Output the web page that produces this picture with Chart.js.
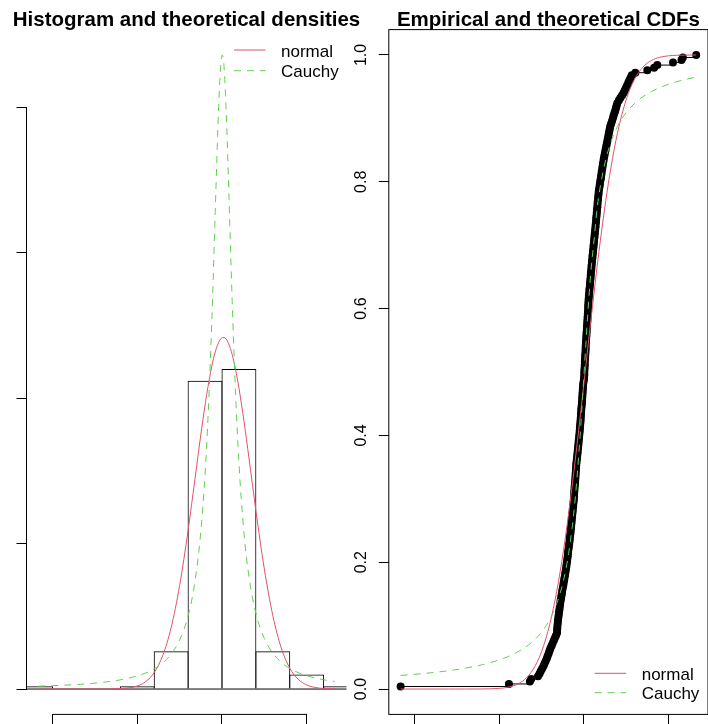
<!DOCTYPE html>
<html>
<head>
<meta charset="utf-8">
<script src="https://cdn.jsdelivr.net/npm/chart.js@4.4.1/dist/chart.umd.min.js"></script>
<style>
  html, body { margin: 0; padding: 0; background: #fff; overflow: hidden; width: 708px; height: 724px; }
  canvas { position: absolute; left: 0; top: 0; }
</style>
</head>
<body>
<canvas id="dens" width="708" height="724"></canvas>
<canvas id="cdf" width="712" height="724"></canvas>
<script>
// sorted sample
const sample = [
  -0.1084, -0.0443,
  -0.0319, -0.0311, -0.0271, -0.0262, -0.0255, -0.0247, -0.0239, -0.0233, -0.0226, -0.0219, -0.0214, -0.0208, -0.0203,
  -0.0198, -0.0191, -0.0185, -0.0178, -0.0172, -0.0165, -0.0159,
  -0.0158, -0.0157, -0.0156, -0.0154, -0.0153,
  -0.0151, -0.0149, -0.0147, -0.0145, -0.0143, -0.0141, -0.0139, -0.0137,
  -0.0134, -0.0132, -0.0129, -0.0127, -0.0124, -0.0121, -0.0119, -0.0116, -0.0114, -0.0111, -0.0109, -0.0106, -0.0104,
  -0.0102, -0.0100, -0.0098, -0.0096, -0.0094, -0.0093, -0.0091, -0.0089, -0.0087, -0.0085, -0.0083, -0.0082, -0.0080, -0.0078,
  -0.0077, -0.0075, -0.0074, -0.0072, -0.0071, -0.0069, -0.0068, -0.0066, -0.0065, -0.0063, -0.0062, -0.0060, -0.0059,
  -0.0058, -0.0057, -0.0056, -0.0055, -0.0054, -0.0052, -0.0051, -0.0050, -0.0049, -0.0048, -0.0047, -0.0046, -0.0045,
  -0.0044, -0.0042, -0.0040, -0.0039, -0.0037, -0.0036, -0.0034, -0.0033, -0.0031, -0.0030, -0.0028, -0.0027, -0.0025,
  -0.0024, -0.0023, -0.0022, -0.0020, -0.0019, -0.0018, -0.0017, -0.0016, -0.0015, -0.0014, -0.0012, -0.0011, -0.0010,
  -0.0009, -0.0008, -0.0007, -0.0006, -0.0005, -0.0004, -0.0002,
  0.0001, 0.0002, 0.0003, 0.0003, 0.0004, 0.0005, 0.0006, 0.0006, 0.0007, 0.0008, 0.0009, 0.0010, 0.0011, 0.0011,
  0.0012, 0.0013, 0.0014, 0.0015, 0.0016, 0.0017, 0.0018,
  0.0019, 0.0020, 0.0021, 0.0022, 0.0023, 0.0024, 0.0025, 0.0026, 0.0026, 0.0027, 0.0028, 0.0029,
  0.0030, 0.0032, 0.0033, 0.0034, 0.0036, 0.0037, 0.0038, 0.0040, 0.0041, 0.0042, 0.0044, 0.0045, 0.0046, 0.0048, 0.0049,
  0.0051, 0.0052, 0.0054, 0.0055, 0.0057, 0.0058, 0.0060, 0.0061, 0.0063, 0.0064, 0.0066, 0.0067, 0.0069,
  0.0070, 0.0072, 0.0073, 0.0074, 0.0076, 0.0077, 0.0078, 0.0080, 0.0081, 0.0082, 0.0084, 0.0085, 0.0087, 0.0088,
  0.0090, 0.0093, 0.0095, 0.0097, 0.0100, 0.0102, 0.0104, 0.0106, 0.0109, 0.0111, 0.0113, 0.0116, 0.0118,
  0.0121, 0.0124, 0.0127, 0.0130, 0.0133, 0.0136, 0.0139, 0.0142, 0.0145, 0.0148, 0.0151, 0.0154, 0.0157,
  0.0162, 0.0167, 0.0172, 0.0176, 0.0181, 0.0186,
  0.0190, 0.0194, 0.0198,
  0.0207, 0.0216, 0.0226, 0.0235,
  0.0242, 0.0249, 0.0256, 0.0263, 0.0270, 0.0277, 0.0284,
  0.0305, 0.0376,
  0.0416, 0.0435, 0.0528, 0.0578, 0.0586,
  0.0665
];

const breaks = [-0.12, -0.10, -0.08, -0.06, -0.04, -0.02, 0, 0.02, 0.04, 0.06, 0.08];

// fitted curves, values read at these x positions
const gridX = [-0.1084, -0.095, -0.08, -0.07, -0.06, -0.05, -0.045, -0.04, -0.035, -0.03, -0.025, -0.02,
  -0.016, -0.012, -0.009, -0.006, -0.004, -0.002, -0.0008, 0.0002, 0.0012, 0.0024, 0.004, 0.006, 0.008,
  0.010, 0.013, 0.016, 0.02, 0.025, 0.03, 0.035, 0.04, 0.045, 0.05, 0.055, 0.06, 0.0665];
const normDens = [0, 0, 0.0001, 0.0024, 0.027, 0.211, 0.513, 1.137, 2.297, 4.233, 7.12, 10.92,
  14.40, 17.90, 20.27, 22.21, 23.18, 23.83, 24.07, 24.16, 24.17, 24.07, 23.73, 23.01, 21.98,
  20.70, 18.40, 15.82, 12.28, 8.25, 5.05, 2.82, 1.44, 0.669, 0.284, 0.109, 0.0387, 0.0087];
const cauchyDens = [0.196, 0.255, 0.358, 0.467, 0.632, 0.903, 1.108, 1.392, 1.798, 2.407, 3.375, 5.036,
  7.359, 11.50, 16.85, 25.33, 32.76, 39.97, 42.80, 43.60, 42.80, 39.97, 34.30, 26.73, 20.36,
  15.56, 10.70, 7.670, 5.217, 3.477, 2.469, 1.837, 1.419, 1.128, 0.917, 0.760, 0.640, 0.522];
const normCdf = [0, 0, 0, 0.00001, 0.00011, 0.00104, 0.00275, 0.0067, 0.0150, 0.0310, 0.0589, 0.1037,
  0.1543, 0.2189, 0.2763, 0.3401, 0.3856, 0.4326, 0.4614, 0.4855, 0.5097, 0.5386, 0.5769, 0.6237, 0.6687,
  0.7114, 0.7702, 0.8215, 0.8777, 0.9288, 0.9616, 0.9809, 0.9912, 0.9963, 0.9986, 0.9995, 0.9998, 1.0];
const cauchyCdf = [0.0214, 0.0244, 0.0289, 0.0330, 0.0384, 0.0460, 0.0510, 0.0572, 0.0651, 0.0755, 0.0897, 0.1104,
  0.1348, 0.1715, 0.2136, 0.2759, 0.3338, 0.4068, 0.4567, 0.5, 0.5433, 0.5932, 0.6528, 0.7065, 0.7606,
  0.7962, 0.8351, 0.8623, 0.8875, 0.9089, 0.9235, 0.9342, 0.9423, 0.9486, 0.9537, 0.9579, 0.9613, 0.9651];

const xTicks = [-0.10, -0.05, 0, 0.05];
const densTicks = [0, 10, 20, 30, 40];
const cdfTicks = [0, 0.2, 0.4, 0.6, 0.8, 1.0];
const cdfTickLabels = ['0.0', '0.2', '0.4', '0.6', '0.8', '1.0'];
const legendLabels = ['normal', 'Cauchy'];
const titles = ['Histogram and theoretical densities', 'Empirical and theoretical CDFs'];

const FONT = "'Liberation Sans', Arial, Helvetica, sans-serif";
const RED = '#DF536B';
const GREEN = '#61D04F';
const DASH = [7, 6];

const n = sample.length;
const xMin = Math.min(...sample), xMax = Math.max(...sample);
const xPad = (xMax - xMin) * 0.04;

// histogram densities (right-closed bins like R)
const binWidth = breaks[1] - breaks[0];
const histBars = [];
for (let i = 0; i < breaks.length - 1; i++) {
  const lo = breaks[i], hi = breaks[i + 1];
  const count = sample.filter(v => v > lo + 1e-12 && v <= hi + 1e-12).length;
  histBars.push({ x: (lo + hi) / 2, y: count / (n * binWidth) });
}
const densMax = Math.max(...normDens, ...cauchyDens, ...histBars.map(b => b.y));

const pts = (xs, ys) => xs.map((x, i) => ({ x: x, y: ys[i] }));

function axis(min, max, ticks, fit) {
  return {
    type: 'linear', min: min, max: max, offset: false,
    afterBuildTicks: s => { s.ticks = ticks.map(v => ({ value: v })); },
    afterFit: fit,
    ticks: { display: false },
    border: { display: false },
    grid: { offset: false, drawOnChartArea: false, drawTicks: true, tickLength: 10,
            color: '#000', tickColor: '#000', lineWidth: 1 }
  };
}

function drawLegend(ctx, chart, x0, rows) {
  ctx.font = '17px ' + FONT;
  ctx.textAlign = 'left';
  ctx.textBaseline = 'alphabetic';
  legendLabels.forEach((lab, i) => {
    const ds = chart.data.datasets[i];
    ctx.save();
    ctx.strokeStyle = ds.borderColor;
    ctx.lineWidth = 1;
    ctx.setLineDash(ds.borderDash || []);
    ctx.beginPath();
    ctx.moveTo(x0, rows[i]);
    ctx.lineTo(x0 + 31.5, rows[i]);
    ctx.stroke();
    ctx.restore();
    ctx.fillStyle = '#000';
    ctx.fillText(lab, x0 + 47, rows[i] + 6.5);
  });
}

function drawTitle(ctx, a, text) {
  ctx.fillStyle = '#000';
  ctx.font = 'bold 20.5px ' + FONT;
  ctx.textAlign = 'center';
  ctx.textBaseline = 'alphabetic';
  ctx.fillText(text, (a.left + a.right) / 2, 26);
}

// left panel: histogram + densities
new Chart(document.getElementById('dens'), {
  type: 'line',
  data: {
    datasets: [
      { type: 'line', label: legendLabels[0], data: pts(gridX, normDens), borderColor: RED, borderWidth: 1,
        pointRadius: 0, cubicInterpolationMode: 'monotone', order: 1 },
      { type: 'line', label: legendLabels[1], data: pts(gridX, cauchyDens), borderColor: GREEN, borderWidth: 1,
        borderDash: DASH, pointRadius: 0, cubicInterpolationMode: 'monotone', order: 0 },
      { type: 'bar', data: histBars, borderColor: '#000', borderWidth: 1, backgroundColor: 'rgba(0,0,0,0)',
        barPercentage: 1.03, categoryPercentage: 1, borderSkipped: 'start', order: 3 },
      { type: 'line', data: [{ x: breaks[0], y: 0 }, { x: breaks[breaks.length - 1], y: 0 }],
        borderColor: '#000', borderWidth: 1, pointRadius: 0, order: 2 }
    ]
  },
  options: {
    responsive: false, animation: false, events: [],
    layout: { padding: { left: 0, top: 29.6, right: 361.5, bottom: 0 } },
    plugins: { legend: { display: false }, title: { display: false }, tooltip: { enabled: false } },
    scales: {
      x: axis(xMin - xPad, xMax + xPad, xTicks, s => { s.height = 9.6; }),
      y: axis(-densMax * 0.04, densMax * 1.04, densTicks, s => { s.width = 26.5; })
    }
  },
  plugins: [{
    id: 'rDecor',
    afterDraw(chart) {
      const { ctx, chartArea: a, scales: { x, y } } = chart;
      ctx.save();
      ctx.strokeStyle = '#000';
      ctx.lineWidth = 1;
      ctx.beginPath();
      ctx.moveTo(a.left, y.getPixelForValue(densTicks[0]));
      ctx.lineTo(a.left, y.getPixelForValue(densTicks[densTicks.length - 1]));
      ctx.moveTo(x.getPixelForValue(xTicks[0]), a.bottom);
      ctx.lineTo(x.getPixelForValue(xTicks[xTicks.length - 1]), a.bottom);
      ctx.stroke();
      drawTitle(ctx, a, titles[0]);
      drawLegend(ctx, chart, a.right - 112.5, [a.top + 20.4, a.top + 41.1]);
      ctx.restore();
    }
  }]
});

// right panel: empirical and theoretical CDFs
new Chart(document.getElementById('cdf'), {
  type: 'line',
  data: {
    datasets: [
      { label: legendLabels[0], data: pts(gridX, normCdf), borderColor: RED, borderWidth: 1,
        pointRadius: 0, cubicInterpolationMode: 'monotone', order: 1 },
      { label: legendLabels[1], data: pts(gridX, cauchyCdf), borderColor: GREEN, borderWidth: 1,
        borderDash: DASH, pointRadius: 0, cubicInterpolationMode: 'monotone', order: 0 },
      { label: 'ecdf', data: sample.map((v, i) => ({ x: v, y: (i + 1) / n })), borderColor: '#000', borderWidth: 1,
        stepped: true, pointRadius: 4, pointBackgroundColor: '#000', pointBorderWidth: 0, order: 2 }
    ]
  },
  options: {
    responsive: false, animation: false, events: [],
    layout: { padding: { left: 0, top: 29.6, right: 2, bottom: 0 } },
    plugins: { legend: { display: false }, title: { display: false }, tooltip: { enabled: false } },
    scales: {
      x: axis(xMin - xPad, xMax + xPad, xTicks, s => { s.height = 9.6; }),
      y: axis(-0.04, 1.04, cdfTicks, s => { s.width = 388.8; })
    }
  },
  plugins: [{
    id: 'rDecor2',
    afterDraw(chart) {
      const { ctx, chartArea: a, scales: { y } } = chart;
      ctx.save();
      ctx.strokeStyle = '#000';
      ctx.lineWidth = 1;
      ctx.strokeRect(a.left, a.top, a.right - a.left, a.bottom - a.top);
      ctx.fillStyle = '#000';
      ctx.font = '16px ' + FONT;
      ctx.textAlign = 'center';
      ctx.textBaseline = 'alphabetic';
      cdfTicks.forEach((v, i) => {
        ctx.save();
        ctx.translate(a.left - 22.8, y.getPixelForValue(v));
        ctx.rotate(-Math.PI / 2);
        ctx.fillText(cdfTickLabels[i], 0, 0);
        ctx.restore();
      });
      drawTitle(ctx, a, titles[1]);
      drawLegend(ctx, chart, a.right - 113.3, [a.bottom - 41.1, a.bottom - 21.7]);
      ctx.restore();
    }
  }]
});
</script>
</body>
</html>
